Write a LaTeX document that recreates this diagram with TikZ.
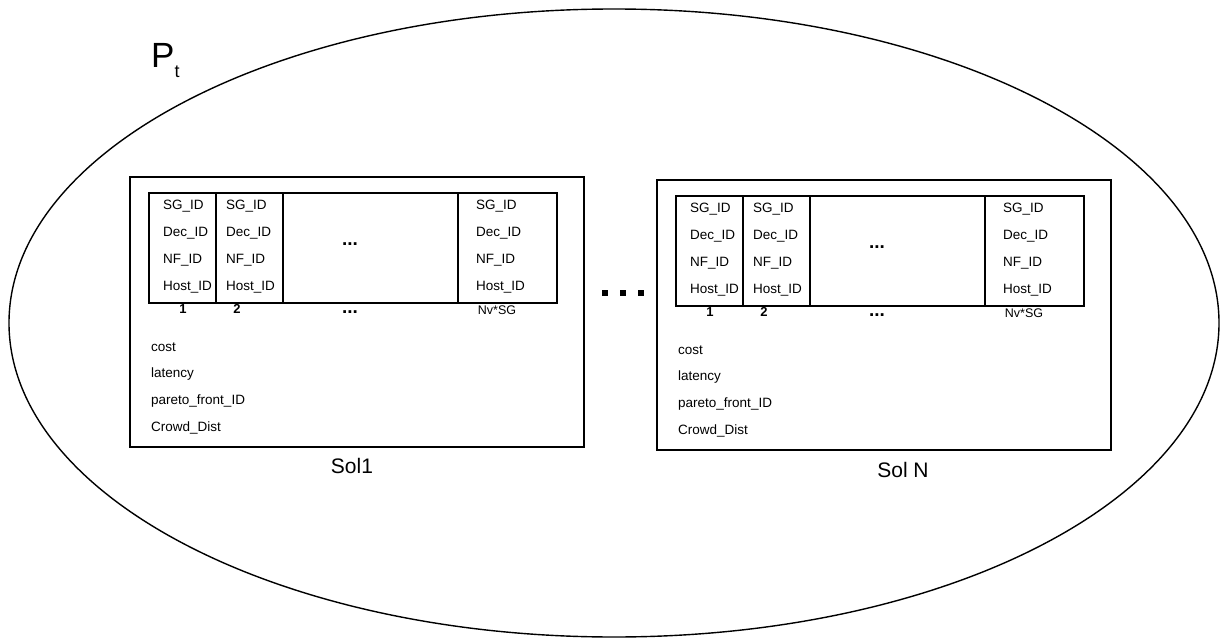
\documentclass[tikz,border=0pt]{standalone}
\usepackage{fontspec}
\setmainfont{Liberation Sans}
\begin{document}
\begin{tikzpicture}[x=1pt,y=-1pt,
  frame/.style={draw=black,line width=1.4pt},
  cell/.style={font=\fontsize{13.5}{14}\selectfont,anchor=west,inner sep=0pt},
  idx/.style={font=\fontsize{13}{13}\selectfont\bfseries,inner sep=0pt},
  dotsty/.style={font=\fontsize{19}{19}\selectfont\bfseries,inner sep=0pt},
  attr/.style={font=\fontsize{13.5}{14}\selectfont,anchor=west,inner sep=0pt},
  sollabel/.style={font=\fontsize{21}{22}\selectfont,inner sep=0pt},
  sq/.style={fill=black,minimum size=6pt,inner sep=0pt}]
\useasboundingbox (0,0) rectangle (1220,639);
\draw[line width=1.4pt] (614,323) ellipse [x radius=605, y radius=314];
\node[font=\fontsize{35}{36}\selectfont,inner sep=0pt,anchor=base west] (pt) at (151,68) {P\raisebox{-10pt}{\fontsize{18}{18}\selectfont t}};
\foreach \dx/\dy/\nm in {0/0/a,527/3/b}{
\begin{scope}[shift={(\dx,\dy)}]
  \draw[frame] (130,177) rectangle (584,447);
  \draw[frame] (149,193) rectangle (557,303);
  \draw[frame] (216,193) -- (216,303);
  \draw[frame] (283,193) -- (283,303);
  \draw[frame] (458,193) -- (458,303);
  \foreach \cx/\c in {163/1,226/2,476/3}{
    \node[cell] (\nm sg\c) at (\cx,206) {SG\_ID};
    \node[cell] (\nm dec\c) at (\cx,233) {Dec\_ID};
    \node[cell] (\nm nf\c) at (\cx,260) {NF\_ID};
    \node[cell] (\nm host\c) at (\cx,287) {Host\_ID};
  }
  \node[dotsty] (\nm dotsmid) at (350,244) {...};
  \node[idx] (\nm i1) at (183,309) {1};
  \node[idx] (\nm i2) at (237,309) {2};
  \node[dotsty] (\nm idots) at (350,312) {...};
  \node[font=\fontsize{12.5}{13}\selectfont,inner sep=0pt] (\nm iN) at (497,310) {Nv*SG};
  \node[attr] (\nm cost) at (151,347) {cost};
  \node[attr] (\nm lat) at (151,374) {latency};
  \node[attr] (\nm par) at (151,401) {pareto\_front\_ID};
  \node[attr] (\nm crowd) at (151,428) {Crowd\_Dist};
\end{scope}
}
\node[sollabel] (sol1) at (352,466) {Sol1};
\node[sollabel] (soln) at (903,470) {Sol N};
\node[sq] (d1) at (605,293) {};
\node[sq] (d2) at (623,293) {};
\node[sq] (d3) at (641,293) {};
\end{tikzpicture}
\end{document}
